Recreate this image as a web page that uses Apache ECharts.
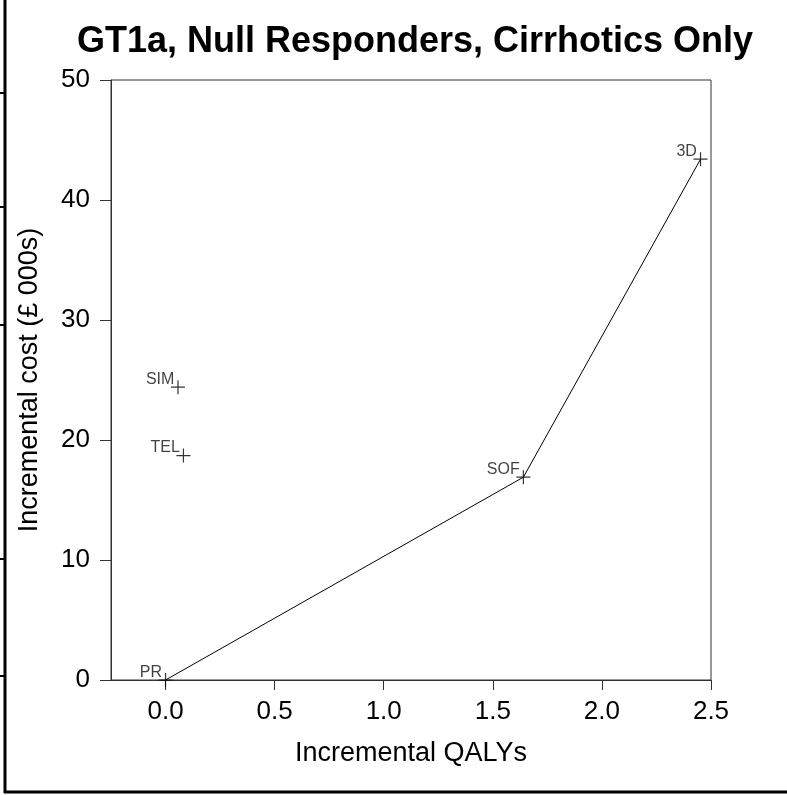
<!DOCTYPE html>
<html>
<head>
<meta charset="utf-8">
<script src="https://cdn.jsdelivr.net/npm/echarts@6/dist/echarts.min.js"></script>
<style>
  html, body { margin: 0; padding: 0; background: #fff; }
  #main { width: 787px; height: 795px; }
</style>
</head>
<body>
<div id="main"></div>
<script>
// strategies
const names = ['PR', 'SIM', 'TEL', 'SOF', '3D'];
const qalys = [0, 0.057, 0.082, 1.640, 2.452];
const costs = [0, 24.4, 18.7, 16.9, 43.4];
// efficiency frontier
const frontier = ['PR', 'SOF', '3D'];
const xTicks = [0, 0.5, 1.0, 1.5, 2.0, 2.5];

const FONT = 'Liberation Sans, Arial, sans-serif';
const pts = names.map((n, i) => ({ name: n, value: [qalys[i], costs[i]] }));
const frontierPts = frontier.map(n => pts[names.indexOf(n)].value);

let myChart = echarts.init(document.getElementById('main'), null, { renderer: 'canvas' });
myChart.setOption({
  animation: false,
  backgroundColor: '#fff',
  title: {
    text: 'GT1a, Null Responders, Cirrhotics Only',
    left: 410,
    top: 19,
    textAlign: 'center',
    textStyle: { fontFamily: FONT, fontSize: 36, fontWeight: 'bold', color: '#000' }
  },
  grid: {
    left: 111, right: 76, top: 80, bottom: 115,
    show: true, borderColor: '#333', borderWidth: 1, backgroundColor: 'transparent'
  },
  xAxis: {
    type: 'value',
    min: -0.25, max: 2.5,
    name: 'Incremental QALYs',
    nameLocation: 'middle',
    nameGap: 60,
    nameTextStyle: { fontFamily: FONT, fontSize: 27, color: '#000' },
    splitLine: { show: false },
    axisLine: { show: true, onZero: false, lineStyle: { color: '#333', width: 1 } },
    axisTick: { show: true, length: 10, customValues: xTicks, lineStyle: { color: '#333' } },
    axisLabel: {
      customValues: xTicks, margin: 19,
      fontFamily: FONT, fontSize: 26, color: '#000',
      formatter: v => v.toFixed(1)
    }
  },
  yAxis: {
    type: 'value',
    min: 0, max: 50, interval: 10,
    name: 'Incremental cost (£ 000s)',
    nameLocation: 'middle',
    nameGap: 68,
    nameTextStyle: { fontFamily: FONT, fontSize: 27, color: '#000' },
    splitLine: { show: false },
    axisLine: { show: true, onZero: false, lineStyle: { color: '#333', width: 1 } },
    axisTick: { show: true, length: 11, lineStyle: { color: '#333' } },
    axisLabel: { margin: 21, fontFamily: FONT, fontSize: 26, color: '#000' }
  },
  series: [
    {
      type: 'line',
      data: frontierPts,
      symbol: 'none',
      lineStyle: { color: '#000', width: 1 },
      z: 2
    },
    {
      type: 'scatter',
      data: pts,
      symbol: 'path://M5,0L5,10M0,5L10,5',
      symbolSize: 14,
      itemStyle: { color: 'transparent', borderColor: '#000', borderWidth: 1.2 },
      label: {
        show: true,
        formatter: p => p.name,
        position: [4, 8],
        align: 'right',
        verticalAlign: 'bottom',
        fontFamily: FONT, fontSize: 16, color: '#111'
      },
      z: 3
    }
  ],
  graphic: [
    // frame of the neighbouring panel
    { type: 'line', shape: { x1: 5, y1: 0, x2: 5, y2: 793 }, style: { stroke: '#000', lineWidth: 3 } },
    { type: 'line', shape: { x1: 4, y1: 792, x2: 787, y2: 792 }, style: { stroke: '#000', lineWidth: 3 } },
    { type: 'line', shape: { x1: 0, y1: 93, x2: 5, y2: 93 }, style: { stroke: '#000', lineWidth: 2 } },
    { type: 'line', shape: { x1: 0, y1: 207, x2: 5, y2: 207 }, style: { stroke: '#000', lineWidth: 2 } },
    { type: 'line', shape: { x1: 0, y1: 325, x2: 5, y2: 325 }, style: { stroke: '#000', lineWidth: 2 } },
    { type: 'line', shape: { x1: 0, y1: 559, x2: 5, y2: 559 }, style: { stroke: '#000', lineWidth: 2 } },
    { type: 'line', shape: { x1: 0, y1: 676, x2: 5, y2: 676 }, style: { stroke: '#000', lineWidth: 2 } }
  ]
});
</script>
</body>
</html>
